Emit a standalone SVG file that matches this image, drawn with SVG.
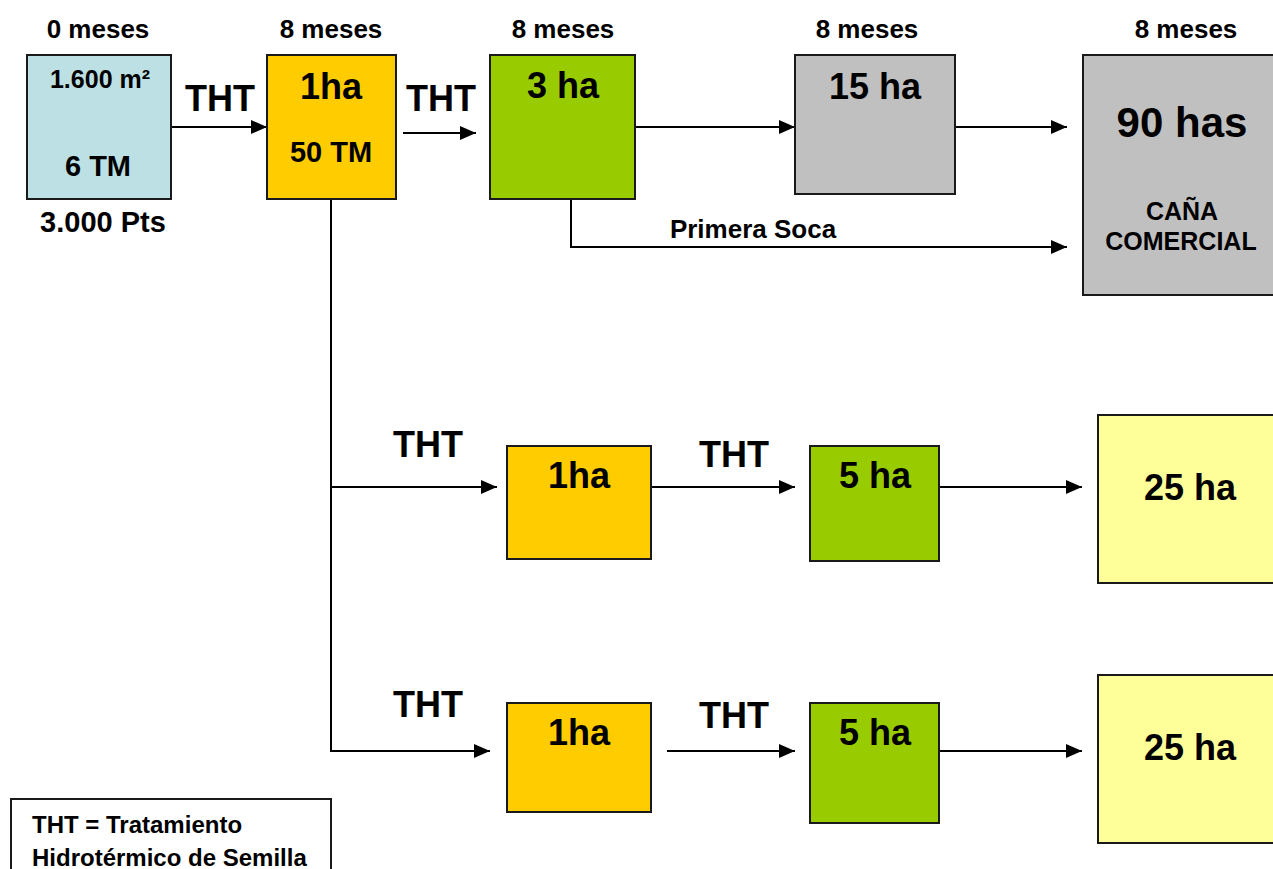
<svg xmlns="http://www.w3.org/2000/svg" width="1273" height="869" viewBox="0 0 1273 869">
<style>
  text { font-family: "Liberation Sans", Arial, sans-serif; font-weight: bold; fill: #000; }
  .c { text-anchor: middle; }
  .box { stroke: #1a1a1a; stroke-width: 2; }
  .blue { fill: #BCE0E4; }
  .orange { fill: #FFCC00; }
  .green { fill: #99CC00; }
  .gray { fill: #C0C0C0; }
  .yellow { fill: #FFFF99; }
  .conn { fill: none; stroke: #000; stroke-width: 2; }
  .meses { font-size: 26px; }
  .tht { font-size: 36px; }
  .big { font-size: 36px; }
  .mid { font-size: 29px; }
</style>
<defs>
  <marker id="arr" markerUnits="userSpaceOnUse" markerWidth="16" markerHeight="14" refX="16" refY="7" orient="auto">
    <path d="M0,0 L16,7 L0,14 z" fill="#000"/>
  </marker>
</defs>
<rect width="1273" height="869" fill="#fff"/>

<g id="connectors">
  <path class="conn" d="M171,127 H267" marker-end="url(#arr)"/>
  <path class="conn" d="M403,133 H476" marker-end="url(#arr)"/>
  <path class="conn" d="M635,127 H795" marker-end="url(#arr)"/>
  <path class="conn" d="M955,127 H1067" marker-end="url(#arr)"/>
  <path class="conn" d="M571,199 V247 H1067" marker-end="url(#arr)"/>
  <path class="conn" d="M331,199 V751 H490" marker-end="url(#arr)"/>
  <path class="conn" d="M331,487 H497" marker-end="url(#arr)"/>
  <path class="conn" d="M651,487 H795" marker-end="url(#arr)"/>
  <path class="conn" d="M939,487 H1082" marker-end="url(#arr)"/>
  <path class="conn" d="M667,751 H795" marker-end="url(#arr)"/>
  <path class="conn" d="M939,751 H1082" marker-end="url(#arr)"/>
</g>

<g id="labels">
  <text class="c meses" x="98" y="38">0 meses</text>
  <text class="c meses" x="331" y="38">8 meses</text>
  <text class="c meses" x="563" y="38">8 meses</text>
  <text class="c meses" x="867" y="38">8 meses</text>
  <text class="c meses" x="1186" y="38">8 meses</text>
  <text class="c tht" x="220" y="111">THT</text>
  <text class="c tht" x="441" y="111">THT</text>
  <text class="c tht" x="428" y="457">THT</text>
  <text class="c tht" x="734" y="467">THT</text>
  <text class="c tht" x="428" y="717">THT</text>
  <text class="c tht" x="734" y="728">THT</text>
  <text class="c" x="753" y="238" font-size="26">Primera Soca</text>
  <text class="c mid" x="103" y="232">3.000 Pts</text>
</g>

<g id="node-seed">
  <rect class="box blue" x="27" y="55" width="144" height="144"/>
  <text class="c" x="100" y="88" font-size="25">1.600 m²</text>
  <text class="c mid" x="98" y="176">6 TM</text>
</g>

<g id="node-1ha">
  <rect class="box orange" x="267" y="55" width="129" height="144"/>
  <text class="c big" x="331" y="99">1ha</text>
  <text class="c mid" x="331" y="162">50 TM</text>
</g>

<g id="node-3ha">
  <rect class="box green" x="490" y="55" width="145" height="144"/>
  <text class="c big" x="563" y="98">3 ha</text>
</g>

<g id="node-15ha">
  <rect class="box gray" x="795" y="55" width="160" height="139"/>
  <text class="c big" x="875" y="99">15 ha</text>
</g>

<g id="node-90has">
  <rect class="box gray" x="1083" y="55" width="200" height="240"/>
  <text class="c" x="1182" y="137" font-size="42">90 has</text>
  <text class="c" x="1182" y="220" font-size="25">CAÑA</text>
  <text class="c" x="1181" y="250" font-size="25">COMERCIAL</text>
</g>

<g id="node-row2-1ha">
  <rect class="box orange" x="507" y="446" width="144" height="113"/>
  <text class="c big" x="579" y="488">1ha</text>
</g>

<g id="node-row2-5ha">
  <rect class="box green" x="810" y="446" width="129" height="115"/>
  <text class="c big" x="875" y="488">5 ha</text>
</g>

<g id="node-row2-25ha">
  <rect class="box yellow" x="1098" y="415" width="185" height="168"/>
  <text class="c big" x="1190" y="500">25 ha</text>
</g>

<g id="node-row3-1ha">
  <rect class="box orange" x="507" y="703" width="144" height="109"/>
  <text class="c big" x="579" y="745">1ha</text>
</g>

<g id="node-row3-5ha">
  <rect class="box green" x="810" y="703" width="129" height="120"/>
  <text class="c big" x="875" y="745">5 ha</text>
</g>

<g id="node-row3-25ha">
  <rect class="box yellow" x="1098" y="675" width="185" height="168"/>
  <text class="c big" x="1190" y="760">25 ha</text>
</g>

<g id="legend">
  <rect x="11" y="799" width="320" height="90" fill="#fff" stroke="#1a1a1a" stroke-width="2"/>
  <text x="32" y="833" font-size="24">THT = Tratamiento</text>
  <text x="32" y="866" font-size="24">Hidrotérmico de Semilla</text>
</g>
</svg>
